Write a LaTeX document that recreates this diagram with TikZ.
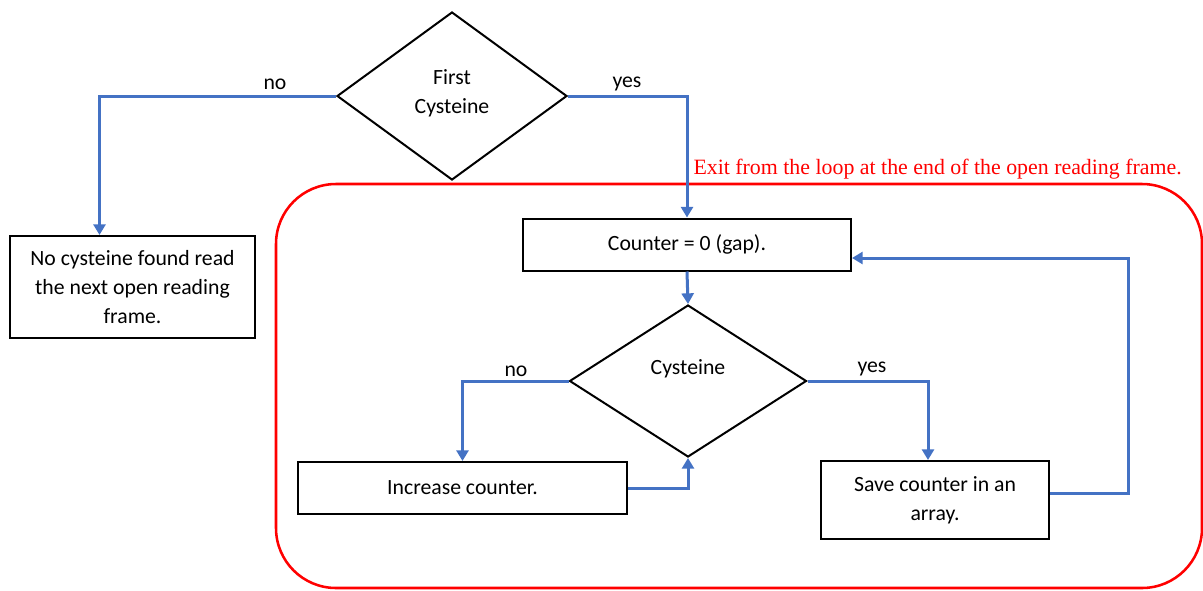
\documentclass[tikz,border=0pt]{standalone}
\usepackage{fontspec}
\setmainfont{Carlito}
\newfontfamily\notefont{Liberation Serif}
\usetikzlibrary{shapes.geometric,arrows.meta,calc}

\definecolor{flowblue}{RGB}{68,114,196}
\definecolor{loopred}{RGB}{255,0,0}

\tikzset{every picture/.style={line width=0.75pt}}
\tikzset{
  boxfont/.style={font=\fontsize{16.3}{21.4}\selectfont},
  procbox/.style={draw, rectangle, line width=1.5pt, inner sep=0pt, align=center, boxfont},
  decision/.style={draw, diamond, line width=1.5pt, inner sep=0pt, boxfont},
  lbl/.style={inner sep=0pt, boxfont},
  flow/.style={draw=flowblue, line width=2.25pt, -{Triangle[width=9pt,length=8pt]}}
}

\begin{document}
\begin{tikzpicture}[x=0.75pt,y=0.75pt,yscale=-1,xscale=1]
\useasboundingbox (0,0) rectangle (1203,590);

%Shape: Rounded Rect [loop frame]
\draw [loopred, line width=1.9pt, rounded corners=45pt] (276,184) rectangle (1202,588);

%Decisions
\node [decision, minimum width=172.5pt, minimum height=126pt] (first) at (452,96) {};
\node [lbl, align=center] (firsttxt) at (452,93.5) {First\\Cysteine};
\node [decision, minimum width=177.75pt, minimum height=114pt] (cys) at (688,381) {};
\node [lbl] (cystxt) at (688,369) {Cysteine};

%Process boxes
\node [procbox, minimum width=183.75pt, minimum height=76.5pt] (nocys) at (132.5,287) {No cysteine found read\\the next open reading\\frame.};
\node [procbox, minimum width=246pt, minimum height=39pt] (counter) at (687,244.5) {Counter = 0 (gap).};
\node [procbox, minimum width=246.75pt, minimum height=39pt] (incr) at (462.5,488) {Increase counter.};
\node [procbox, minimum width=171pt, minimum height=58.5pt] (save) at (935,500) {Save counter in an\\array.};

% Text Node
\node [anchor=west, inner sep=0pt, text=loopred, font=\notefont\fontsize{16.4}{19}\selectfont] (exitnote) at (693,169) {Exit from the loop at the end of the open reading frame.};

% Text Node
\node [lbl] (firstno) at (275,84) {no};
\node [lbl] (firstyes) at (627,84) {yes};
\node [lbl] (cysno) at (516,371) {no};
\node [lbl] (cysyes) at (872,369) {yes};

%Connectors
\draw [flow] (first.west) -| ($(nocys.north)+(-33,0)$);
\draw [flow] (first.east) -| (counter.north);
\draw [flow] (counter.south) -- (cys.north);
\draw [flow] (cys.west) -| (incr.north);
\draw [flow] (cys.east) -| ($(save.north)+(-7,0)$);
\draw [flow] (incr.east) -| (cys.south);
\draw [flow] ($(save.east)+(0,-7)$) -- (1128,493) |- ($(counter.east)+(0,13.5)$);

\end{tikzpicture}
\end{document}
